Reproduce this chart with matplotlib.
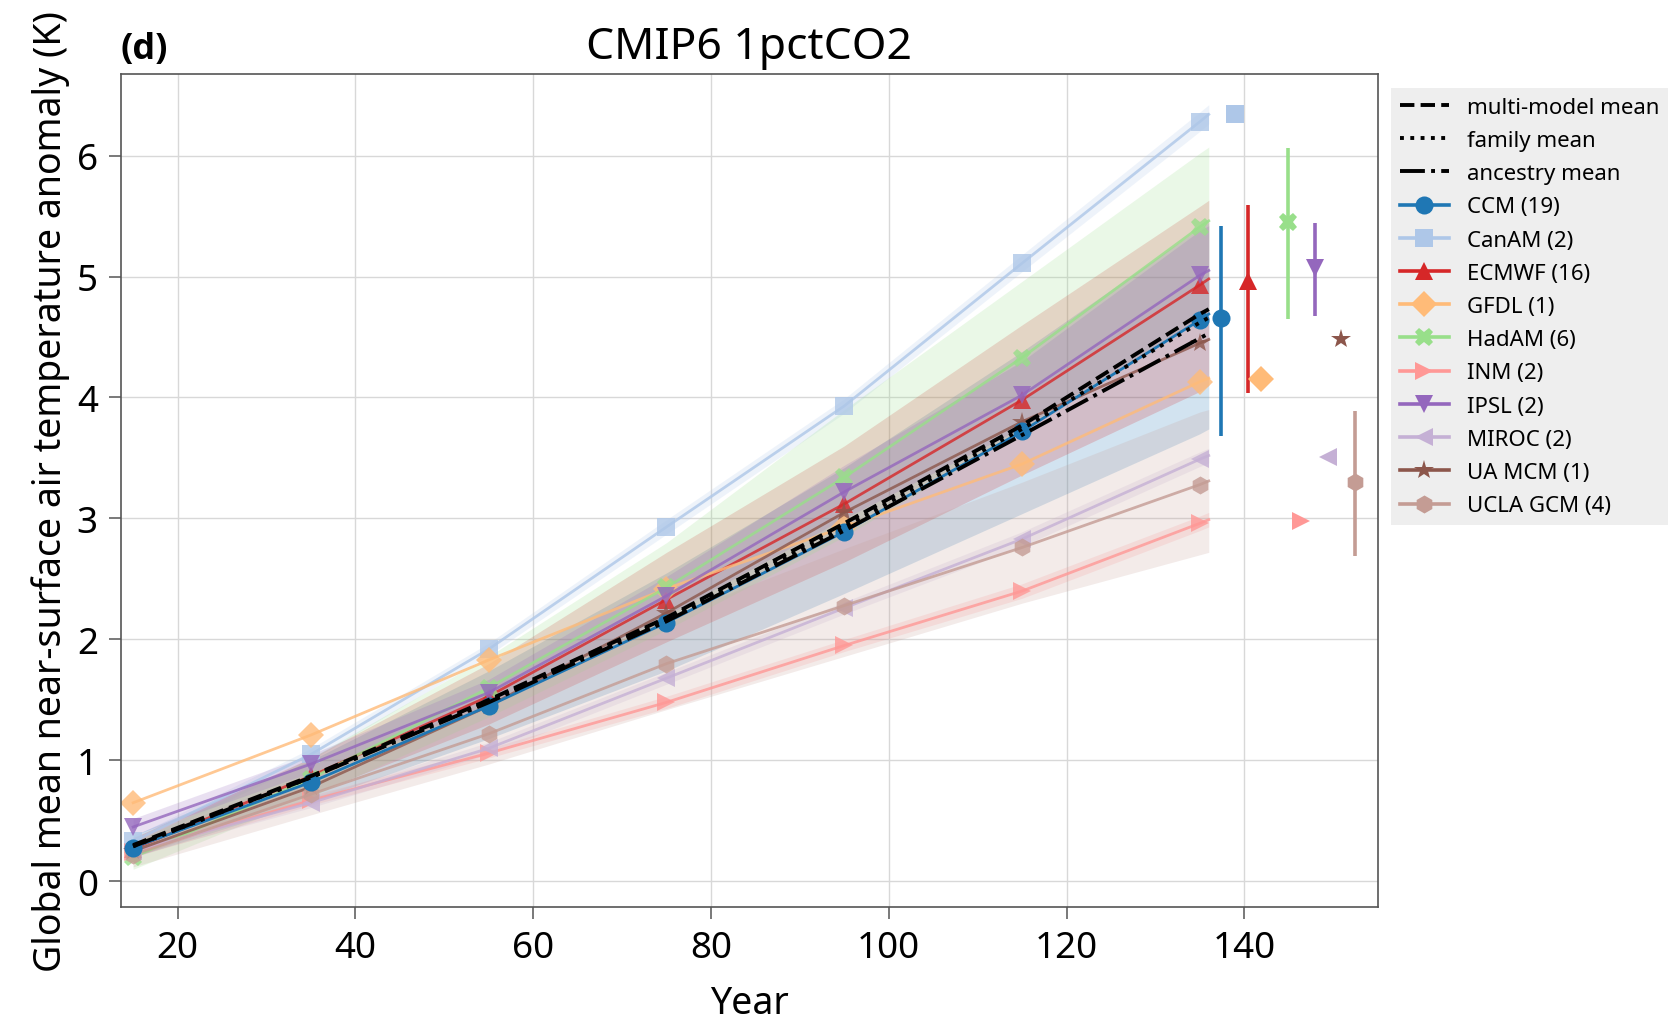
import numpy as np
import matplotlib
matplotlib.use("Agg")
import matplotlib.pyplot as plt
from matplotlib.lines import Line2D

plt.rcParams['font.family'] = ['Noto Sans', 'DejaVu Sans']

# years at which the curves are sampled (markers at the first 7)
years = [15, 35, 55, 75, 95, 115, 135, 136]

families = ['CCM', 'CanAM', 'ECMWF', 'GFDL', 'HadAM', 'INM', 'IPSL', 'MIROC', 'UA MCM', 'UCLA GCM']
members = [19, 2, 16, 1, 6, 2, 2, 2, 1, 4]
colors = ['#1f77b4', '#aec7e8', '#d62728', '#ffbb78', '#98df8a',
          '#ff9896', '#9467bd', '#c5b0d5', '#8c564b', '#c49c94']
markers = ['o', 's', '^', 'D', 'X', '>', 'v', '<', '*', 'h']

# family means (K)
mean_vals = {
    'CCM':      [0.28, 0.82, 1.45, 2.14, 2.89, 3.72, 4.64, 4.69],
    'CanAM':    [0.33, 1.05, 1.92, 2.93, 3.93, 5.11, 6.28, 6.34],
    'ECMWF':    [0.27, 0.87, 1.53, 2.33, 3.12, 3.98, 4.93, 4.98],
    'GFDL':     [0.65, 1.21, 1.83, 2.42, 2.93, 3.45, 4.13, 4.16],
    'HadAM':    [0.20, 0.85, 1.60, 2.43, 3.34, 4.33, 5.41, 5.46],
    'INM':      [0.24, 0.67, 1.06, 1.48, 1.95, 2.40, 2.96, 2.99],
    'IPSL':     [0.45, 0.97, 1.56, 2.36, 3.22, 4.02, 5.01, 5.05],
    'MIROC':    [0.25, 0.65, 1.10, 1.68, 2.26, 2.83, 3.49, 3.52],
    'UA MCM':   [0.25, 0.78, 1.45, 2.22, 3.05, 3.80, 4.45, 4.48],
    'UCLA GCM': [0.22, 0.72, 1.22, 1.80, 2.28, 2.76, 3.28, 3.31],
}
# spread envelopes for families with more than one member
band_lo = {
    'CCM':      [0.20, 0.66, 1.18, 1.74, 2.38, 3.04, 3.70, 3.74],
    'CanAM':    [0.29, 1.00, 1.87, 2.87, 3.87, 5.04, 6.20, 6.26],
    'ECMWF':    [0.20, 0.72, 1.30, 1.98, 2.64, 3.36, 4.05, 4.10],
    'HadAM':    [0.10, 0.70, 1.36, 2.08, 2.85, 3.72, 4.65, 4.70],
    'INM':      [0.20, 0.63, 1.02, 1.43, 1.90, 2.34, 2.90, 2.93],
    'IPSL':     [0.38, 0.90, 1.45, 2.20, 3.00, 3.75, 4.65, 4.68],
    'MIROC':    [0.21, 0.61, 1.05, 1.63, 2.21, 2.77, 3.43, 3.46],
    'UCLA GCM': [0.12, 0.55, 0.97, 1.42, 1.86, 2.30, 2.70, 2.72],
}
band_hi = {
    'CCM':      [0.38, 1.00, 1.74, 2.55, 3.42, 4.38, 5.40, 5.45],
    'CanAM':    [0.37, 1.10, 1.97, 2.99, 3.99, 5.18, 6.36, 6.42],
    'ECMWF':    [0.36, 1.02, 1.80, 2.72, 3.60, 4.60, 5.58, 5.63],
    'HadAM':    [0.32, 1.02, 1.86, 2.80, 3.90, 4.96, 6.02, 6.07],
    'INM':      [0.28, 0.71, 1.10, 1.53, 2.00, 2.46, 3.02, 3.05],
    'IPSL':     [0.52, 1.05, 1.67, 2.52, 3.44, 4.30, 5.38, 5.42],
    'MIROC':    [0.29, 0.69, 1.15, 1.73, 2.31, 2.89, 3.55, 3.58],
    'UCLA GCM': [0.32, 0.90, 1.48, 2.18, 2.75, 3.30, 3.88, 3.90],
}

multi_model_mean = [0.30, 0.87, 1.50, 2.18, 2.96, 3.77, 4.69, 4.73]
family_mean      = [0.29, 0.86, 1.49, 2.17, 2.93, 3.74, 4.62, 4.66]
ancestry_mean    = [0.29, 0.86, 1.48, 2.15, 2.90, 3.69, 4.49, 4.53]

# end-of-run summary on the right side (value and spread)
end_x  = [137.4, 138.9, 140.4, 141.9, 144.9, 146.4, 147.9, 149.4, 150.9, 152.4]
end_y  = [4.66, 6.34, 4.96, 4.15, 5.45, 2.98, 5.07, 3.51, 4.48, 3.30]
end_lo = [3.68, 6.34, 4.04, 4.15, 4.65, 2.98, 4.67, 3.51, 4.48, 2.69]
end_hi = [5.42, 6.34, 5.59, 4.15, 6.06, 2.98, 5.44, 3.51, 4.48, 3.89]

fig = plt.figure(figsize=(16.76, 10.2), dpi=100)
ax = fig.add_axes([0.072, 0.110, 0.750, 0.816])

ms = 13
for i in range(len(families)):
    fam = families[i]
    if fam in band_lo:
        ax.fill_between(years, band_lo[fam], band_hi[fam], color=colors[i],
                        alpha=0.2, linewidth=0, zorder=1)
for i in range(len(families)):
    fam = families[i]
    a = 1.0 if i == 0 else 0.8
    ax.plot(years, mean_vals[fam], color=colors[i], lw=2, marker=markers[i],
            ms=ms if markers[i] != '*' else ms + 2, markevery=slice(0, 7),
            markeredgewidth=0, alpha=a, zorder=3 if i == 0 else 2)

ax.plot(years, multi_model_mean, color='k', ls='--', lw=2.8, zorder=4)
ax.plot(years, family_mean, color='k', ls=':', lw=2.8, zorder=4)
ax.plot(years, ancestry_mean, color='k', ls='-.', lw=2.8, zorder=4)

for i in range(len(families)):
    yerr = [[end_y[i] - end_lo[i]], [end_hi[i] - end_y[i]]]
    ax.errorbar(end_x[i], end_y[i], yerr=yerr, color=colors[i], fmt=markers[i],
                ms=ms if markers[i] != '*' else ms + 2, markeredgewidth=0,
                elinewidth=2.6, capsize=0)

ax.set_xlim(13.6, 155)
ax.set_ylim(-0.21, 6.67)
ax.set_xticks([20, 40, 60, 80, 100, 120, 140])
ax.set_yticks([0, 1, 2, 3, 4, 5, 6])
ax.grid(True, color='#d8d8d8', lw=1)
ax.set_axisbelow(True)
for s in ax.spines.values():
    s.set_color('#555555')
    s.set_linewidth(1.2)
ax.tick_params(labelsize=26.5, length=8.5, width=1.1, color='#555555', pad=8)

ax.set_xlabel('Year', fontsize=27, labelpad=13)
ax.set_ylabel('Global mean near-surface air temperature anomaly (K)', fontsize=27, labelpad=5)
ax.set_title('CMIP6 1pctCO2', fontsize=32, pad=10)
ax.set_title('(d)', loc='left', fontsize=26, fontweight='bold', pad=12,
             family=['Open Sans', 'DejaVu Sans'])

handles = [Line2D([], [], color='k', ls='--', lw=2.8),
           Line2D([], [], color='k', ls=':', lw=2.8),
           Line2D([], [], color='k', ls='-.', lw=2.8)]
labels = ['multi-model mean', 'family mean', 'ancestry mean']
for i in range(len(families)):
    handles.append(Line2D([], [], color=colors[i], lw=2.6, marker=markers[i],
                          ms=ms if markers[i] != '*' else ms + 2, markeredgewidth=0))
    labels.append('%s (%d)' % (families[i], members[i]))

leg = ax.legend(handles, labels, loc='upper left', bbox_to_anchor=(1.0, 1.0),
                fontsize=16, frameon=True, fancybox=False, framealpha=1,
                facecolor='#eeeeee', edgecolor='none', handlelength=2.2,
                labelspacing=0.55, borderaxespad=0.6)

fig.savefig('out.png', dpi=100)
